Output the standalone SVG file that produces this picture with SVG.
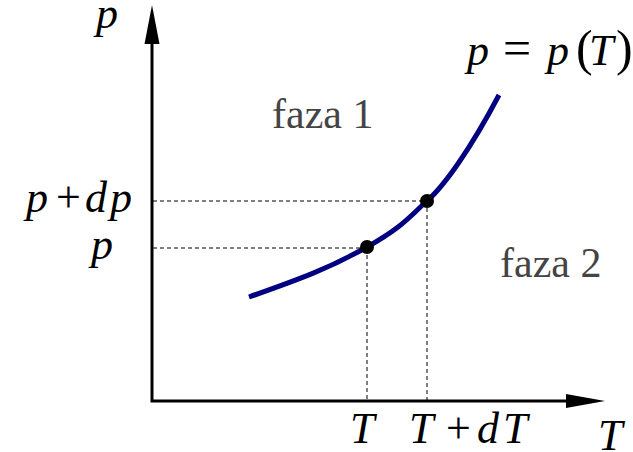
<svg xmlns="http://www.w3.org/2000/svg" width="633" height="452" viewBox="0 0 633 452">
<style>
.math{font-family:"Liberation Serif","Times New Roman",serif;font-style:italic;font-size:44px;fill:#000}
.up{font-family:"Liberation Serif","Times New Roman",serif;font-style:normal;fill:#000}
.phase{font-family:"Liberation Serif","Times New Roman",serif;font-size:42px;fill:#444}
.axis{stroke:#000;stroke-width:3;fill:none}
.dash{stroke:#000;stroke-width:1;stroke-dasharray:4,3;fill:none}
</style>
<rect width="633" height="452" fill="#fff"/>
<g id="guides">
<path class="dash" d="M153,201H427M153,248H367M367,248V400M427,201V400"/>
</g>
<g id="axes">
<path class="axis" d="M152,44V401H566"/>
<polygon points="152,5 159.5,44 144.5,44" fill="#000"/>
<polygon points="605,401 566,394 566,408" fill="#000"/>
</g>
<g id="curve">
<path d="M249,297 C300,279 330,268 367,247 S410,216 427,201 S470,150 499,95" fill="none" stroke="#000080" stroke-width="5"/>
<circle cx="367" cy="247" r="7" fill="#000"/>
<circle cx="427" cy="201" r="7" fill="#000"/>
</g>
<g id="labels">
<text class="math" x="96" y="28">p</text>
<text class="math" y="212"><tspan x="26">p</tspan><tspan class="up" x="56">+</tspan><tspan x="85">d</tspan><tspan x="110">p</tspan></text>
<text class="math" x="91" y="259">p</text>
<text class="math" x="350" y="443">T</text>
<text class="math" y="443"><tspan x="409">T</tspan><tspan class="up" x="446">+</tspan><tspan x="477">d</tspan><tspan x="503">T</tspan></text>
<text class="math" x="598" y="450">T</text>
<text class="math" y="65"><tspan x="467">p</tspan><tspan class="up" x="503" font-size="50">=</tspan><tspan x="547">p</tspan><tspan class="up" x="576" font-size="50">(</tspan><tspan x="589">T</tspan><tspan class="up" x="616" font-size="50">)</tspan></text>
</g>
<g id="phases">
<text class="phase" x="272" y="128">faza 1</text>
<text class="phase" x="500" y="277">faza 2</text>
</g>
</svg>
